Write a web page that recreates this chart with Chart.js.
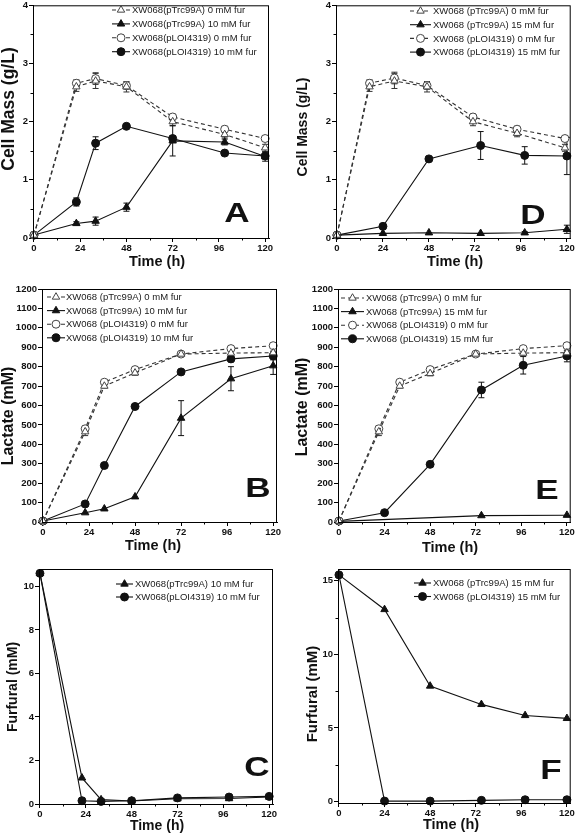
<!DOCTYPE html>
<html>
<head>
<meta charset="utf-8">
<script src="https://cdn.jsdelivr.net/npm/chart.js@4.4.0/dist/chart.umd.min.js"></script>
<style>
  html, body { margin: 0; padding: 0; background: #fff; }
  #wrap { position: relative; width: 576px; height: 836px; }
  canvas { position: absolute; }
</style>
</head>
<body>
<div id="wrap">
  <canvas id="chartA" width="288" height="275" style="left:0;top:0"></canvas>
  <canvas id="chartD" width="288" height="275" style="left:288px;top:0"></canvas>
  <canvas id="chartB" width="288" height="280" style="left:0;top:275px"></canvas>
  <canvas id="chartE" width="288" height="280" style="left:288px;top:275px"></canvas>
  <canvas id="chartC" width="288" height="281" style="left:0;top:555px"></canvas>
  <canvas id="chartF" width="288" height="281" style="left:288px;top:555px"></canvas>
</div>
<script>
const FONT = "'Liberation Sans', Arial, sans-serif";

// shared axis ticks
const timeTicks = [0, 24, 48, 72, 96, 120];
const timeMinor = [12, 36, 60, 84, 108];
const massTicks = [0, 1, 2, 3, 4];
const massMinor = [0.5, 1.5, 2.5, 3.5];
const lacTicks = [0, 100, 200, 300, 400, 500, 600, 700, 800, 900, 1000, 1100, 1200];
const furTicksC = [0, 2, 4, 6, 8, 10];
const furTicksF = [0, 5, 10, 15];
const furMinorF = [2.5, 7.5, 12.5];

// Panel A - cell mass, 10 mM furfural
const timeA = [0, 22, 32, 48, 72, 99, 120];
const massTrc0A = [0.05, 2.60, 2.70, 2.60, 2.00, 1.78, 1.55];
const errTrc0A = [0, 0.08, 0.13, 0.09, 0.07, 0.06, 0.06];
const massLoi0A = [0.05, 2.66, 2.74, 2.62, 2.08, 1.87, 1.71];
const errLoi0A = [0, 0.06, 0.10, 0.06, 0.05, 0.05, 0.03];
const massTrc10 = [0.05, 0.25, 0.29, 0.53, 1.67, 1.65, 1.40];
const errTrc10 = [0, 0.03, 0.07, 0.07, 0.26, 0.05, 0.08];
const massLoi10 = [0.05, 0.62, 1.63, 1.92, 1.71, 1.46, 1.41];
const errLoi10 = [0, 0.07, 0.11, 0.02, 0.05, 0.03, 0.05];

// Panel D - cell mass, 15 mM furfural
const timeCtrlD = [0, 17, 30, 47, 71, 94, 119];
const massTrc0D = [0.05, 2.60, 2.70, 2.60, 2.00, 1.80, 1.55];
const massLoi0D = [0.05, 2.66, 2.75, 2.62, 2.08, 1.87, 1.71];
const timeD = [0, 24, 48, 75, 98, 120];
const massTrc15 = [0.05, 0.08, 0.09, 0.08, 0.09, 0.15];
const errTrc15 = [0, 0, 0, 0, 0.02, 0.07];
const massLoi15 = [0.05, 0.20, 1.36, 1.59, 1.42, 1.41];
const errLoi15 = [0, 0, 0, 0.24, 0.15, 0.32];

// Panel B - lactate, 10 mM furfural
const timeB = [0, 22, 32, 48, 72, 98, 120];
const lacTrc0B = [5, 465, 700, 768, 865, 870, 872];
const errTrc0B = [0, 20, 10, 12, 8, 10, 8];
const lacLoi0B = [5, 480, 720, 785, 865, 893, 908];
const errLoi0B = [0, 15, 10, 10, 5, 8, 5];
const lacTrc10 = [5, 48, 68, 130, 535, 738, 805];
const errLacTrc10 = [0, 0, 0, 0, 90, 62, 45];
const lacLoi10 = [5, 93, 291, 595, 773, 840, 855];
const errLacLoi10 = [0, 0, 0, 0, 0, 15, 20];

// Panel E - lactate, 15 mM furfural
const timeCtrlE = [0, 21, 32, 48, 72, 97, 120];
const lacTrc0E = [5, 465, 700, 765, 865, 870, 872];
const lacLoi0E = [5, 480, 720, 785, 865, 893, 908];
const timeTrc15E = [0, 75, 120];
const lacTrc15 = [3, 33, 35];
const timeE = [0, 24, 48, 75, 97, 120];
const lacLoi15 = [5, 48, 297, 680, 807, 855];
const errLacLoi15 = [0, 0, 0, 40, 45, 30];

// Panel C - furfural, 10 mM
const timeC = [0, 22, 32, 48, 72, 99, 120];
const furTrc10 = [10.6, 1.2, 0.2, 0.14, 0.24, 0.25, 0.32];
const furLoi10 = [10.6, 0.15, 0.12, 0.15, 0.28, 0.32, 0.35];

// Panel F - furfural, 15 mM
const timeF = [0, 24, 48, 75, 98, 120];
const furTrc15 = [15.4, 13.05, 7.85, 6.6, 5.85, 5.65];
const furLoi15 = [15.4, 0.03, 0.03, 0.08, 0.12, 0.12];

function makePanel(id, p) {
  const canvas = document.getElementById(id);
  const W = canvas.width, H = canvas.height;

  const deco = {
    id: 'deco',
    beforeDatasetsDraw(chart) {
      const ctx = chart.ctx, xs = chart.scales.x, ys = chart.scales.y;
      chart.data.datasets.forEach(ds => {
        if (!ds.errors) return;
        ctx.save();
        ctx.strokeStyle = ds.borderColor;
        ctx.lineWidth = 1;
        ds.data.forEach((pt, i) => {
          const e = ds.errors[i];
          if (!e) return;
          const x = xs.getPixelForValue(pt.x);
          const y1 = ys.getPixelForValue(pt.y + e);
          const y2 = ys.getPixelForValue(pt.y - e);
          ctx.beginPath();
          ctx.moveTo(x, y1); ctx.lineTo(x, y2);
          ctx.moveTo(x - 3, y1); ctx.lineTo(x + 3, y1);
          ctx.moveTo(x - 3, y2); ctx.lineTo(x + 3, y2);
          ctx.stroke();
        });
        ctx.restore();
      });
    },
    afterDraw(chart) {
      const ctx = chart.ctx, a = chart.chartArea, xs = chart.scales.x, ys = chart.scales.y;
      ctx.save();
      // frame
      ctx.strokeStyle = '#000';
      ctx.lineWidth = 1;
      ctx.strokeRect(a.left + 0.5, a.top + 0.5, a.right - a.left - 1, a.bottom - a.top);
      // minor ticks
      ctx.beginPath();
      timeMinor.forEach(v => {
        const x = Math.round(xs.getPixelForValue(v)) + 0.5;
        ctx.moveTo(x, a.bottom); ctx.lineTo(x, a.bottom + 2.5);
      });
      (p.yMinor || []).forEach(v => {
        const y = Math.round(ys.getPixelForValue(v)) + 0.5;
        ctx.moveTo(a.left, y); ctx.lineTo(a.left - 2.5, y);
      });
      ctx.stroke();

      // legend
      const L = p.legend;
      ctx.font = '9.5px ' + FONT;
      ctx.textBaseline = 'middle';
      ctx.textAlign = 'left';
      chart.data.datasets.forEach((ds, i) => {
        const y = L.y0 + i * L.dy;
        ctx.strokeStyle = ds.borderColor;
        ctx.lineWidth = 1.1;
        ctx.setLineDash(ds.borderDash || []);
        ctx.beginPath();
        ctx.moveTo(L.x0, y); ctx.lineTo(L.x1, y);
        ctx.stroke();
        ctx.setLineDash([]);
        ctx.fillStyle = ds.pointBackgroundColor;
        ctx.strokeStyle = ds.pointBorderColor;
        ctx.lineWidth = 1;
        Chart.helpers.drawPoint(ctx, { pointStyle: ds.pointStyle, radius: ds.pointRadius, rotation: 0, borderWidth: 1 }, (L.x0 + L.x1) / 2, y);
        ctx.fillStyle = '#1a1a1a';
        ctx.fillText(ds.label, L.tx, y + 0.5);
      });

      // axis titles (centres)
      ctx.fillStyle = '#111';
      ctx.textAlign = 'center';
      ctx.textBaseline = 'middle';
      ctx.font = 'bold ' + p.yTitle.size + 'px ' + FONT;
      ctx.save();
      ctx.translate(p.yTitle.x, p.yTitle.y);
      ctx.rotate(-Math.PI / 2);
      ctx.fillText(p.yTitle.text, 0, 0);
      ctx.restore();
      ctx.font = 'bold ' + p.xTitle.size + 'px ' + FONT;
      ctx.fillText('Time (h)', p.xTitle.x, p.xTitle.y);

      // panel letter (bottom of glyph at letter.y)
      ctx.save();
      ctx.textBaseline = 'alphabetic';
      ctx.translate(p.letter.x, p.letter.y);
      ctx.scale(1.3, 1);
      ctx.font = 'bold 27px ' + FONT;
      ctx.fillText(p.letter.text, 0, 0);
      ctx.restore();
      ctx.restore();
    }
  };

  const tickFont = { family: FONT, size: 9.5, weight: 'bold' };

  new Chart(canvas, {
    type: 'line',
    data: {
      datasets: p.series.map(s => ({
        label: s.label,
        data: s.x.map((t, i) => ({ x: t, y: s.y[i] })),
        errors: s.err,
        borderColor: s.open ? '#333' : '#111',
        borderWidth: 1.1,
        borderDash: s.open ? [4, 3] : [],
        pointStyle: s.marker,
        pointRadius: s.marker === 'triangle' ? 4.3 : 4,
        pointBackgroundColor: s.open ? '#fff' : '#111',
        pointBorderColor: s.open ? '#444' : '#111',
        pointBorderWidth: 1,
        tension: 0,
        fill: false,
        clip: false
      }))
    },
    options: {
      responsive: false,
      animation: false,
      events: [],
      layout: { padding: { top: p.area.t, right: W - p.area.r, left: 0, bottom: 0 } },
      plugins: { legend: { display: false }, tooltip: { enabled: false } },
      scales: {
        x: {
          type: 'linear', min: -0.5, max: 122,
          afterFit: s => { s.height = H - p.area.b; s.paddingLeft = 0; s.paddingRight = 0; },
          afterBuildTicks: s => { s.ticks = timeTicks.map(v => ({ value: v })); },
          grid: { drawOnChartArea: false, color: '#000', tickLength: 4 },
          border: { color: '#000', width: 1 },
          ticks: { color: '#111', font: tickFont, padding: 1, maxRotation: 0, autoSkip: false, callback: v => String(v) }
        },
        y: {
          type: 'linear', min: p.yMin, max: p.yMax,
          afterFit: s => { s.width = p.area.l; s.paddingTop = 0; s.paddingBottom = 0; },
          afterBuildTicks: s => { s.ticks = p.yTicks.map(v => ({ value: v })); },
          grid: { drawOnChartArea: false, color: '#000', tickLength: 4 },
          border: { color: '#000', width: 1 },
          ticks: { color: '#111', font: tickFont, padding: 1, autoSkip: false, callback: v => String(v) }
        }
      }
    },
    plugins: [deco]
  });
}

makePanel('chartA', {
  area: { l: 33, t: 4, r: 269, b: 238 },
  yMin: 0, yMax: 4, yTicks: massTicks, yMinor: massMinor,
  series: [
    { label: 'XW068(pTrc99A) 0 mM fur', x: timeA, y: massTrc0A, err: errTrc0A, open: true, marker: 'triangle' },
    { label: 'XW068(pTrc99A) 10 mM fur', x: timeA, y: massTrc10, err: errTrc10, open: false, marker: 'triangle' },
    { label: 'XW068(pLOI4319) 0 mM fur', x: timeA, y: massLoi0A, err: errLoi0A, open: true, marker: 'circle' },
    { label: 'XW068(pLOI4319) 10 mM fur', x: timeA, y: massLoi10, err: errLoi10, open: false, marker: 'circle' }
  ],
  legend: { x0: 112, x1: 130, tx: 132, y0: 10, dy: 13.9 },
  yTitle: { text: 'Cell Mass (g/L)', size: 17.5, x: 9, y: 109 },
  xTitle: { size: 14.5, x: 157, y: 262 },
  letter: { text: 'A', x: 237, y: 222 }
});

makePanel('chartD', {
  area: { l: 48, t: 4, r: 283, b: 238 },
  yMin: 0, yMax: 4, yTicks: massTicks, yMinor: massMinor,
  series: [
    { label: 'XW068 (pTrc99A) 0 mM fur', x: timeCtrlD, y: massTrc0D, err: errTrc0A, open: true, marker: 'triangle' },
    { label: 'XW068 (pTrc99A) 15 mM fur', x: timeD, y: massTrc15, err: errTrc15, open: false, marker: 'triangle' },
    { label: 'XW068 (pLOI4319) 0 mM fur', x: timeCtrlD, y: massLoi0D, err: errLoi0A, open: true, marker: 'circle' },
    { label: 'XW068 (pLOI4319) 15 mM fur', x: timeD, y: massLoi15, err: errLoi15, open: false, marker: 'circle' }
  ],
  legend: { x0: 122, x1: 143, tx: 145, y0: 11, dy: 13.7 },
  yTitle: { text: 'Cell Mass (g/L)', size: 14, x: 15, y: 127 },
  xTitle: { size: 14.5, x: 167, y: 262 },
  letter: { text: 'D', x: 245, y: 224 }
});

makePanel('chartB', {
  area: { l: 42, t: 14, r: 277, b: 247 },
  yMin: 0, yMax: 1200, yTicks: lacTicks, yMinor: [],
  series: [
    { label: 'XW068 (pTrc99A) 0 mM fur', x: timeB, y: lacTrc0B, err: errTrc0B, open: true, marker: 'triangle' },
    { label: 'XW068 (pTrc99A) 10 mM fur', x: timeB, y: lacTrc10, err: errLacTrc10, open: false, marker: 'triangle' },
    { label: 'XW068 (pLOI4319) 0 mM fur', x: timeB, y: lacLoi0B, err: errLoi0B, open: true, marker: 'circle' },
    { label: 'XW068 (pLOI4319) 10 mM fur', x: timeB, y: lacLoi10, err: errLacLoi10, open: false, marker: 'circle' }
  ],
  legend: { x0: 47, x1: 65, tx: 66, y0: 22, dy: 13.6 },
  yTitle: { text: 'Lactate (mM)', size: 16, x: 9, y: 141 },
  xTitle: { size: 14.5, x: 153, y: 271 },
  letter: { text: 'B', x: 258, y: 222 }
});

makePanel('chartE', {
  area: { l: 50, t: 14, r: 286, b: 247 },
  yMin: 0, yMax: 1200, yTicks: lacTicks, yMinor: [],
  series: [
    { label: 'XW068 (pTrc99A) 0 mM fur', x: timeCtrlE, y: lacTrc0E, err: errTrc0B, open: true, marker: 'triangle' },
    { label: 'XW068 (pTrc99A) 15 mM fur', x: timeTrc15E, y: lacTrc15, err: null, open: false, marker: 'triangle' },
    { label: 'XW068 (pLOI4319) 0 mM fur', x: timeCtrlE, y: lacLoi0E, err: errLoi0B, open: true, marker: 'circle' },
    { label: 'XW068 (pLOI4319) 15 mM fur', x: timeE, y: lacLoi15, err: errLacLoi15, open: false, marker: 'circle' }
  ],
  legend: { x0: 53, x1: 76, tx: 78, y0: 23, dy: 13.6 },
  yTitle: { text: 'Lactate (mM)', size: 16, x: 15, y: 132 },
  xTitle: { size: 14.5, x: 162, y: 273 },
  letter: { text: 'E', x: 259, y: 224 }
});

makePanel('chartC', {
  area: { l: 39, t: 14, r: 273, b: 249 },
  yMin: 0, yMax: 10.8, yTicks: furTicksC, yMinor: [],
  series: [
    { label: 'XW068(pTrc99A) 10 mM fur', x: timeC, y: furTrc10, err: null, open: false, marker: 'triangle' },
    { label: 'XW068(pLOI4319) 10 mM fur', x: timeC, y: furLoi10, err: null, open: false, marker: 'circle' }
  ],
  legend: { x0: 116, x1: 133, tx: 135, y0: 29, dy: 13 },
  yTitle: { text: 'Furfural (mM)', size: 14, x: 13, y: 132 },
  xTitle: { size: 14, x: 157, y: 271 },
  letter: { text: 'C', x: 257, y: 221 }
});

makePanel('chartF', {
  area: { l: 50, t: 14, r: 284, b: 248 },
  yMin: -0.1, yMax: 15.8, yTicks: furTicksF, yMinor: furMinorF,
  series: [
    { label: 'XW068 (pTrc99A) 15 mM fur', x: timeF, y: furTrc15, err: null, open: false, marker: 'triangle' },
    { label: 'XW068 (pLOI4319) 15 mM fur', x: timeF, y: furLoi15, err: null, open: false, marker: 'circle' }
  ],
  legend: { x0: 126, x1: 143, tx: 145, y0: 28, dy: 13.5 },
  yTitle: { text: 'Furfural (mM)', size: 15, x: 25, y: 139 },
  xTitle: { size: 14.5, x: 163, y: 270 },
  letter: { text: 'F', x: 263, y: 224 }
});
</script>
</body>
</html>
